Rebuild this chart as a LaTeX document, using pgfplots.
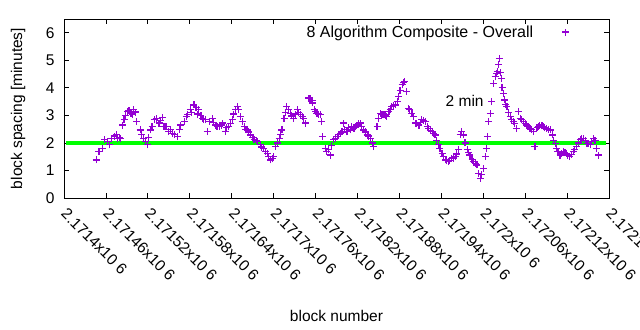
\documentclass[border=0pt]{standalone}
\usepackage{pgfplots}
\pgfplotsset{compat=1.18}
\usepackage{fontspec}
\setmainfont{Liberation Sans}
\definecolor{dv}{RGB}{148,0,211}
\definecolor{gr}{RGB}{0,255,0}
\pgfdeclareplotmark{pcross}{%
  \pgfsetstrokecolor{dv}%
  \pgfsetlinewidth{1.2bp}%
  \pgfpathmoveto{\pgfqpoint{-\pgfplotmarksize}{0pt}}%
  \pgfpathlineto{\pgfqpoint{\pgfplotmarksize}{0pt}}%
  \pgfpathmoveto{\pgfqpoint{0pt}{-\pgfplotmarksize}}%
  \pgfpathlineto{\pgfqpoint{0pt}{\pgfplotmarksize}}%
  \pgfusepathqstroke}
\begin{document}
\begin{tikzpicture}[font=\fontsize{15.5bp}{18bp}\selectfont]
\useasboundingbox (0,0) rectangle (640bp,330bp);
\begin{axis}[
 at={(64bp,132bp)}, anchor=south west,
 scale only axis, width=545bp, height=179bp,
 xmin=0, xmax=780, ymin=0, ymax=6.5,
 xtick={0,60,...,780},
 xticklabels={2.1714x10 6,2.17146x10 6,2.17152x10 6,2.17158x10 6,2.17164x10 6,2.1717x10 6,2.17176x10 6,2.17182x10 6,2.17188x10 6,2.17194x10 6,2.172x10 6,2.17206x10 6,2.17212x10 6,2.17218x10 6},
 ytick={0,1,2,3,4,5,6},
 tick align=inside, xtick pos=both, ytick pos=both,
 major tick length=5bp,
 axis line style={line width=0.8bp},
 every tick/.style={black, line width=0.8bp},
 /pgf/number format/assume math mode=true,
 xticklabel style={xshift=4bp, yshift=-9bp, rotate=-45, anchor=north west, inner sep=0pt},
 yticklabel style={xshift=-6bp},
 xlabel={block number},
 ylabel={block spacing [minutes]},
 xlabel style={at={(axis description cs:0.5,-0.659)}, anchor=center},
 ylabel style={at={(axis description cs:-0.0844,0.5)}, anchor=center},
 legend plot pos=right,
 legend cell align=right,
 legend style={draw=none, fill=none, at={(axis description cs:0.9275,0.927)}, anchor=east, inner sep=0pt, font=\fontsize{16bp}{18bp}\selectfont},
]
\addplot[gr, line width=4bp, forget plot] coordinates {(3,2) (775,2)};
\addplot[only marks, mark=pcross, mark size=3.5bp, dv,
  legend image code/.code={\pgfsetplotmarksize{3.5bp}\pgftransformshift{\pgfqpoint{0.3cm}{0pt}}\pgfuseplotmark{pcross}}] coordinates {
(46,1.38) (50,1.68) (55,1.81) (58,2.13) (65,1.93) (72,2.25) (77,2.17) (81,2.17)
(84,2.65) (86,2.84) (91,3.14) (96,3.08) (100,3.2) (104,2.78) (109,2.47) (114,2.17)
(119,1.93) (124,2.47) (129,2.84) (136,2.72) (141,2.93) (146,2.59) (150,2.41) (155,2.35)
(162,2.23) (167,2.65) (172,2.78) (177,3.02) (181,3.2) (186,3.38) (193,3.2) (198,2.9)
(203,2.84) (205,2.41) (208,2.78) (212,2.9) (217,2.65) (222,2.59) (227,2.72) (231,2.41)
(236,2.59) (241,2.84) (246,3.2) (248,3.32) (250,3.2) (253,2.96) (255,2.78) (258,2.59)
(262,2.47) (267,2.29) (272,2.11) (277,2.05) (281,1.93) (286,1.81) (291,1.63) (296,1.38)
(300,1.5) (303,1.87) (308,2.17) (312,2.47) (315,2.9) (319,3.32) (324,3.08) (329,2.9)
(334,3.2) (339,3.02) (343,2.9) (346,2.72) (350,3.63) (355,3.53) (358,3.2) (362,3.08)
(367,3.02) (369,2.78) (370,2.23) (374,1.81) (379,1.75) (381,1.56) (386,2.11) (391,2.23)
(396,2.35) (400,2.72) (405,2.41) (410,2.47) (415,2.53) (419,2.65) (424,2.72) (429,2.47)
(434,2.29) (439,2.17) (443,1.87) (448,2.59) (453,3.08) (458,3.02) (462,2.96) (465,3.14)
(469,3.32) (474,3.38) (479,3.68) (484,4.11) (487,4.23) (490,3.87) (493,3.26) (498,3.08)
(503,2.72) (508,2.65) (512,2.84) (517,2.78) (522,2.53) (527,2.41) (531,2.29) (536,1.93)
(541,1.63) (546,1.38) (550,1.32) (555,1.44) (560,1.5) (565,1.75) (569,2.41) (572,2.29)
(577,1.75) (581,1.56) (586,1.32) (591,1.2) (593,0.9) (596,0.72) (598,0.84) (600,1.08)
(603,1.5) (605,1.81) (606,2.23) (608,2.78) (610,3.08) (612,3.5) (615,4.17) (619,4.53)
(622,4.84) (623,5.08) (626,4.35) (629,3.8) (631,3.56) (634,3.32) (639,2.96) (643,2.78)
(648,2.53) (650,3.14) (653,2.9) (658,2.78) (662,2.65) (667,2.53) (672,2.41) (674,1.87)
(677,2.56) (681,2.65) (686,2.59) (691,2.53) (696,2.47) (699,2.29) (703,1.99) (705,1.81)
(710,1.56) (715,1.68) (719,1.63) (724,1.5) (729,1.68) (734,1.87) (739,2.11) (743,2.17)
(748,1.99) (753,1.93) (758,2.17) (762,1.81) (765,1.56)
(88,3.0) (93,3.18) (98,3.05) (102,3.12) (62,2.05) (68,2.15) (75,2.3) (79,2.2)
(111,2.3) (117,2.05) (121,2.2) (126,2.6) (132,2.9) (138,2.8) (143,2.6)
(152,2.5) (158,2.3) (165,2.5) (175,2.95) (183,3.1) (189,3.3) (191,3.05) (196,3.0) (200,2.85)
(214,2.75) (219,2.6) (225,2.65) (233,2.55) (238,2.7) (243,3.05)
(260,2.5) (264,2.4) (270,2.2) (275,2.1) (283,1.85) (288,1.7) (293,1.5) (298,1.42)
(306,2.0) (310,2.3) (317,3.1) (321,3.2) (326,2.98) (331,3.05) (336,3.1) (341,2.95)
(352,3.6) (356,3.45) (360,3.15) (364,3.05)
(376,1.7) (383,1.9) (388,2.15) (393,2.3) (398,2.4) (402,2.5) (407,2.55) (412,2.6) (417,2.58)
(421,2.7) (426,2.6) (431,2.4) (436,2.25) (441,2.0)
(450,2.9) (455,3.05) (460,3.0) (467,3.2) (472,3.35) (477,3.5) (481,3.9) (486,4.2) (495,3.2)
(500,2.95) (505,2.7) (510,2.75) (515,2.82) (520,2.6) (525,2.45) (529,2.35) (533,2.1) (538,1.8)
(543,1.5) (548,1.35) (552,1.35) (557,1.45) (562,1.6)
(567,2.3) (574,2.0) (579,1.65) (584,1.4) (589,1.25)
(617,4.4) (620,4.6) (625,4.55) (627,4.0) (632,3.4) (636,3.1) (641,2.85) (645,2.7)
(655,2.85) (660,2.7) (664,2.6) (669,2.5) (679,2.6) (684,2.62) (688,2.55) (693,2.5)
(701,2.1) (707,1.7) (712,1.6) (717,1.65) (721,1.55) (726,1.58) (731,1.75) (736,2.0)
(741,2.15) (746,2.1) (750,1.97) (755,2.05) (760,2.1)
};
\addlegendentry{8 Algorithm Composite - Overall\kern27bp}
\node[anchor=west, inner sep=0pt] at (axis cs:546,3.53) {2 min};
\end{axis}
\end{tikzpicture}
\end{document}
